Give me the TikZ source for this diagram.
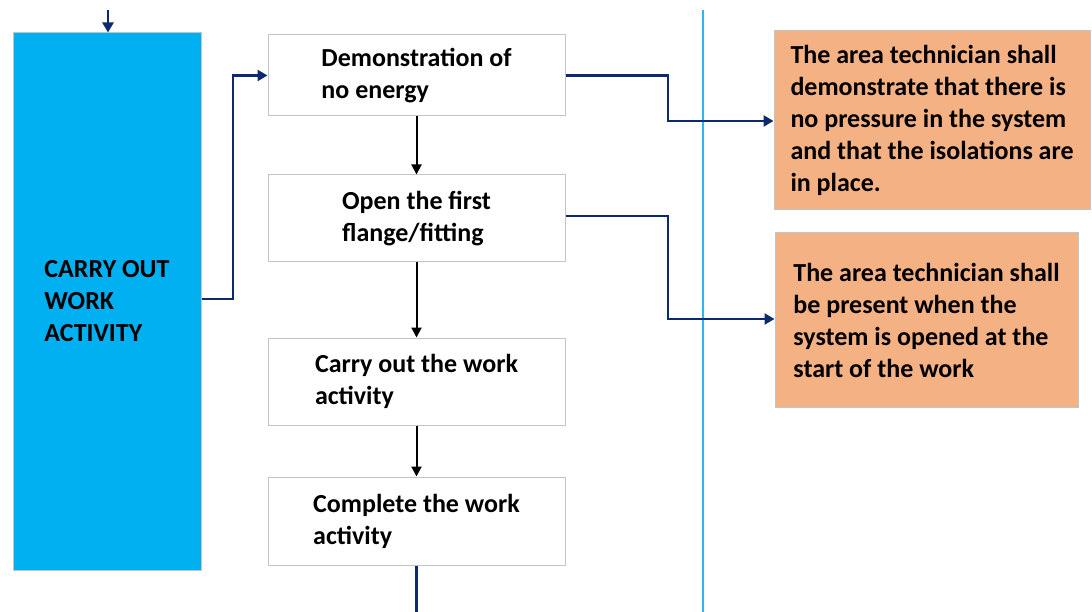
\documentclass[tikz,border=0pt]{standalone}
\usepackage{fontspec}
\setmainfont{Carlito}
\usetikzlibrary{arrows.meta}
\definecolor{bluebox}{HTML}{00B0F0}
\definecolor{orangebox}{HTML}{F4B183}
\definecolor{navy}{HTML}{0D2A6E}
\definecolor{cyanline}{HTML}{2CB5F0}
\definecolor{boxgray}{HTML}{C4C4C4}
\tikzset{
  txt/.style={font=\fontsize{26}{32}\selectfont\bfseries, align=left, inner sep=0pt},
  stepbox/.style={txt, draw=boxgray, line width=1pt, fill=white, minimum width=297pt, minimum height=#1},
  notebox/.style={txt, draw=boxgray, line width=1pt, fill=orangebox},
  navyarrow/.style={draw=navy, line width=2.6pt, -{Triangle[length=10pt,width=11pt]}},
  navyline/.style={draw=navy, line width=2.6pt},
  blackarrow/.style={draw=black, line width=2pt, -{Triangle[length=10pt,width=10pt]}},
}
\begin{document}
\begin{tikzpicture}[x=1pt,y=-1pt]
\useasboundingbox (0,0) rectangle (1092,612);
% divider
\draw[cyanline, line width=1.3pt] (703,10) -- (703,612);
% left blue box
\node[txt, draw=boxgray, line width=1pt, fill=bluebox, minimum width=188pt, minimum height=537pt] (carry) at (107,301.5) {CARRY OUT\\WORK\\ACTIVITY};
\coordinate (topin) at (108,10);
\draw[navyarrow] (topin) -- (carry.north -| topin);
% step boxes
\node[stepbox=81pt] (demo) at (416.5,75.5) {Demonstration of\\no energy};
\node[stepbox=87pt] (open) at (416.5,218.5) {Open the first\\flange/fitting};
\node[stepbox=87pt] (carryact) at (416.5,381.5) {Carry out the work\\activity};
\node[stepbox=88pt] (complete) at (416.5,521) {Complete the work\\activity};
% note boxes
\node[notebox, minimum width=316pt, minimum height=179pt] (note1) at (932,120.5) {The area technician shall\\demonstrate that there is\\no pressure in the system\\and that the isolations are\\in place.};
\node[notebox, minimum width=303pt, minimum height=174pt] (note2) at (926.5,320) {The area technician shall\\be present when the\\system is opened at the\\start of the work};
% black arrows
\draw[blackarrow] (demo) -- (open);
\draw[blackarrow] (open) -- (carryact);
\draw[blackarrow] (carryact) -- (complete);
\coordinate (bottomout) at (416.5,612);
\draw[navyline] (complete) -- (bottomout);
% navy connectors
\draw[navyarrow] (carry.east |- 0,299) -- (233,299) |- (demo.west);
\draw[navyarrow] (demo.east) -- (668,75.5) |- (note1.west |- 0,121);
\draw[navyarrow] (open.east |- 0,216) -- (668,216) |- (note2.west |- 0,319);
\end{tikzpicture}
\end{document}
